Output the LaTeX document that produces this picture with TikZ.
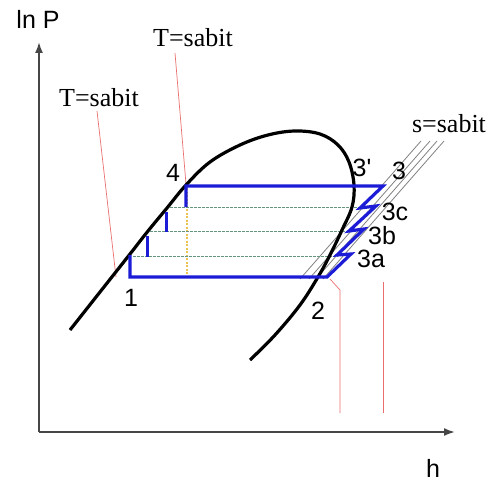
\documentclass[tikz,border=0pt]{standalone}
\usepackage{fontspec}
\setmainfont{Liberation Sans}
\newfontfamily\seriffont{Liberation Serif}
\usetikzlibrary{arrows.meta}
\definecolor{cycblue}{RGB}{28,28,215}
\definecolor{isored}{RGB}{235,110,110}
\definecolor{dashgreen}{RGB}{100,150,125}
\definecolor{isoyellow}{RGB}{235,195,80}
\definecolor{axisgray}{RGB}{70,70,70}
\begin{document}
\begin{tikzpicture}[x=1pt,y=-1pt,
  axisline/.style={draw=axisgray,line width=1.8pt,-{Latex[length=11pt,width=8pt]}},
  dome/.style={draw=black,line width=3.2pt},
  cycle/.style={draw=cycblue,line width=3.2pt,line join=miter},
  subline/.style={draw=cycblue,line width=3pt},
  isobar/.style={draw=dashgreen,line width=1pt,dash pattern=on 2.5pt off 1.5pt},
  isotherm/.style={draw=isored,line width=0.7pt},
  isoyel/.style={draw=isoyellow,line width=1.2pt,dash pattern=on 2pt off 1.5pt},
  isentrope/.style={draw=gray,line width=0.8pt},
  lbl/.style={font=\fontsize{25}{25}\selectfont,inner sep=0pt},
  slbl/.style={font=\seriffont\fontsize{26}{26}\selectfont,inner sep=0pt}]
\useasboundingbox (0,0) rectangle (489,484);
% axes
\coordinate (O) at (39,432);
\coordinate (Ytop) at (39,42);
\coordinate (Xend) at (455,432);
\draw[axisline] (O) -- (Ytop);
\draw[axisline] (O) -- (Xend);
\node[lbl] (lnP) at (38,19) {ln P};
\node[lbl] (hlab) at (433,468) {h};
% isentropes
\foreach \dx in {0,9,16,23}{
  \draw[isentrope] (300+\dx,279) -- (421+\dx,141);
}
\node[slbl] (slab) at (449,124) {s=sabit};
% isotherms
\node[slbl] (t1) at (99,98) {T=sabit};
\node[slbl] (t2) at (193,38) {T=sabit};
\coordinate (t1a) at (97,111);
\coordinate (t1b) at (116,277);
\draw[isotherm] (t1a) -- (t1b);
\coordinate (t2a) at (175,53);
\coordinate (t2b) at (186,184);
\draw[isotherm] (t2a) -- (t2b);
\coordinate (y1) at (187,188);
\coordinate (y2) at (187,277);
\draw[isoyel] (y1) -- (y2);
\coordinate (r1a) at (330,279);
\coordinate (r1b) at (340,290);
\coordinate (r1c) at (340,413);
\draw[isotherm] (r1a) -- (r1b) -- (r1c);
\coordinate (r2a) at (383,282);
\coordinate (r2b) at (383,413);
\draw[isotherm] (r2a) -- (r2b);
% intermediate pressure lines
\draw[isobar] (170,207) -- (360,207);
\draw[isobar] (150,231) -- (350,231);
\draw[isobar] (133,256) -- (338,256);
% dome
\draw[dome] plot[smooth,tension=0.6] coordinates {
 (70,330) (100,292) (130,254) (148,231) (167,208) (186,185) (210,162)
 (240,145) (268,135) (295,131) (320,134) (338,145) (349,162) (354,185)
 (352,207) (342,230) (330,255) (318,277) (300,305) (275,335) (250,360)};
% cycle
\coordinate (p1) at (130,277);
\coordinate (p1t) at (130,255);
\coordinate (p2) at (327,277);
\coordinate (p3) at (383,186);
\coordinate (p4) at (186,186);
\coordinate (p4b) at (186,207);
\coordinate (pc) at (360,208);
\coordinate (pcr) at (376,206);
\coordinate (pb) at (349,231);
\coordinate (pbr) at (364,229);
\coordinate (pa) at (337,255);
\coordinate (par) at (351,254);
\draw[cycle] (p1t) -- (p1) -- (p2) -- (par) -- (pa) -- (pbr) -- (pb) -- (pcr) -- (pc) -- (p3) -- (p4) -- (p4b);
\coordinate (v2a) at (166,212);
\coordinate (v2b) at (166,232);
\coordinate (v3a) at (147,236);
\coordinate (v3b) at (147,257);
\draw[subline] (v2a) -- (v2b);
\draw[subline] (v3a) -- (v3b);
% labels
\node[lbl] (l4) at (173,173) {4};
\node[lbl] (l3p) at (362,168) {3\textquotesingle};
\node[lbl] (l3) at (399,171) {3};
\node[lbl] (l3c) at (395,212) {3c};
\node[lbl] (l3b) at (382,236) {3b};
\node[lbl] (l3a) at (371,259) {3a};
\node[lbl] (l1) at (131,298) {1};
\node[lbl] (l2) at (318,311) {2};
\end{tikzpicture}
\end{document}
